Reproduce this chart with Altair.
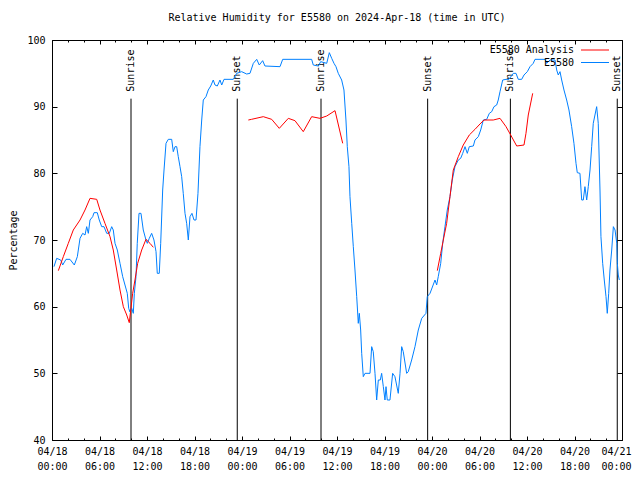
import altair as alt
import pandas as pd

FONT = "DejaVu Sans Mono"

# ---- Observed station series (E5580), hours since 2024-04-18 00:00 UTC ----
blue_h = [0.25, 0.59, 1.10, 1.35, 1.77, 2.27, 2.82, 3.20, 3.54, 3.88, 4.17, 4.38, 4.59, 4.80,
          5.14, 5.31, 5.72, 5.97, 6.28, 6.57, 6.91, 7.24, 7.54, 7.74, 7.96, 8.25, 8.59, 8.93,
          9.22, 9.51, 9.69, 9.85, 10.07, 10.27, 10.40, 10.61, 10.77, 10.99, 11.24, 11.53, 11.87,
          12.04, 12.29, 12.59, 12.88, 13.14, 13.30, 13.55, 13.73, 13.98, 14.15, 14.40, 14.69,
          15.12, 15.32, 15.54, 15.75, 15.95, 16.17, 16.38, 16.58, 16.80, 17.01, 17.22, 17.43,
          17.68, 17.94, 18.19, 18.44, 18.69, 18.91, 19.11, 19.45, 19.74, 20.05, 20.37, 20.59,
          20.88, 21.22, 21.44, 21.73, 22.90, 23.33, 23.96, 24.59, 25.01, 25.43, 25.86, 26.18,
          26.61, 26.90, 28.80, 29.14, 32.80, 33.00, 33.64, 33.94, 34.70, 35.03, 35.33, 35.62,
          35.87, 36.16, 36.59, 36.88, 37.13, 37.30, 37.51, 37.64, 37.86, 38.06, 38.27, 38.49,
          38.69, 38.82, 38.99, 39.12, 39.32, 39.54, 40.17, 40.38, 40.58, 40.80, 41.01, 41.22,
          41.47, 41.64, 41.85, 42.06, 42.19, 42.35, 42.69, 43.03, 43.32, 43.74, 43.96, 44.17,
          44.37, 44.80, 45.00, 45.43, 45.85, 46.27, 46.70, 47.24, 47.40, 47.75, 48.38, 48.59,
          48.79, 49.10, 49.35, 49.64, 49.93, 50.27, 50.56, 50.90, 51.32, 51.62, 51.88, 52.17,
          52.46, 52.71, 53.22, 53.43, 53.85, 54.15, 54.48, 54.91, 55.24, 55.54, 55.83, 56.17,
          56.37, 56.59, 56.93, 57.35, 57.72, 58.27, 58.61, 58.90, 59.33, 59.62, 60.04, 60.38,
          60.79, 61.01, 62.27, 62.49, 62.90, 63.54, 63.75, 63.95, 64.17, 64.38, 64.67, 65.01,
          65.30, 65.64, 65.93, 66.19, 66.35, 66.69, 66.91, 67.11, 67.32, 67.54, 67.74, 67.96,
          68.17, 68.37, 68.80, 69.00, 69.22, 69.34, 69.56, 69.76, 69.98, 70.14, 70.32, 70.48,
          70.70, 70.91, 71.12, 71.34, 71.41, 71.53, 71.66]
blue_v = [66.0, 67.25, 67.0, 66.25, 67.1, 67.1, 66.25, 67.5, 70.25, 71.0, 70.75, 72.0, 71.0, 73.0,
          73.5, 74.1, 74.1, 73.0, 72.0, 72.0, 71.0, 71.0, 72.0, 71.5, 69.5, 68.5, 66.5, 64.5,
          63.25, 62.0, 59.75, 59.2, 59.75, 59.0, 62.0, 64.5, 69.5, 74.0, 74.0, 71.5, 70.0,
          69.5, 70.25, 71.0, 70.0, 68.25, 65.0, 65.0, 69.5, 77.5, 80.5, 84.5, 85.1,
          85.1, 83.25, 84.0, 84.0, 82.5, 81.0, 79.5, 77.0, 74.0, 72.5, 70.0, 73.5,
          74.0, 73.0, 73.0, 77.0, 84.0, 88.0, 91.0, 91.5, 92.5, 93.1, 94.0, 93.25,
          93.1, 94.0, 93.25, 94.1, 94.1, 95.0, 95.25, 94.9, 95.0, 96.5, 97.1, 96.25,
          96.9, 96.1, 96.0, 97.1, 97.1, 96.25, 96.1, 96.75, 96.5, 98.1, 97.25, 96.5,
          96.0, 95.0, 94.0, 92.5, 88.0, 84.0, 81.0, 76.5, 72.5, 69.0, 65.5, 61.5,
          57.5, 59.0, 56.5, 53.0, 49.5, 50.0, 50.0, 54.0, 53.25, 50.0, 46.0, 49.0,
          49.0, 50.0, 48.0, 46.0, 48.0, 46.0, 46.0, 50.0, 49.5, 47.0, 50.0, 54.0,
          53.25, 50.0, 50.25, 52.0, 54.0, 56.5, 58.25, 59.0, 61.5, 62.0, 64.0, 63.25,
          64.5, 66.5, 69.5, 72.0, 74.5, 76.5, 79.0, 81.0, 82.0, 82.25, 83.0, 84.0,
          83.0, 84.0, 84.1, 85.0, 85.5, 86.5, 88.0, 88.1, 89.0, 89.25, 90.0, 90.25,
          91.0, 92.25, 94.0, 94.1, 94.1, 95.0, 95.0, 94.1, 94.1, 94.75, 95.25, 96.0,
          96.5, 97.1, 97.1, 96.5, 97.0, 97.0, 95.5, 94.75, 95.25, 94.0, 92.5, 91.0,
          89.5, 87.0, 84.5, 81.5, 80.1, 80.0, 76.0, 76.0, 78.0, 76.0, 78.0, 80.5,
          84.0, 87.5, 90.0, 87.5, 77.5, 70.5, 66.5, 64.0, 61.5, 59.0, 62.0, 65.5,
          68.5, 72.0, 71.5, 69.5, 66.5, 64.75, 64.0]

# ---- Analysis series (E5580 Analysis), three separate runs ----
red_h = [0.80, 1.43, 2.06, 2.69, 3.54, 4.17, 4.80, 5.65, 6.06, 6.69, 7.33, 7.74, 8.17, 8.59,
         9.01, 9.44, 9.76, 10.19, 10.48, 10.82, 11.33, 11.87, 12.38, 12.80,
         24.80, 25.20, 26.69, 27.75, 28.71, 29.85, 30.69, 31.74, 32.80, 33.85, 34.70, 35.75, 36.72,
         48.67, 49.10, 49.43, 49.85, 50.27, 50.69, 51.32, 51.95, 52.71, 53.43, 54.06, 54.57,
         55.74, 56.59, 57.35, 57.94, 58.70, 59.62, 59.87, 60.16, 60.72]
red_v = [65.4, 67.5, 69.5, 71.5, 73.0, 74.5, 76.25, 76.1, 74.5, 72.5, 70.5, 68.5, 65.5, 62.5,
         60.0, 58.75, 57.6, 62.0, 64.0, 66.5, 68.5, 70.1, 69.5, 68.9,
         88.0, 88.1, 88.5, 88.1, 86.75, 88.25, 87.9, 86.25, 88.5, 88.25, 88.6, 89.4, 84.5,
         65.4, 68.0, 70.0, 72.5, 76.5, 80.5, 82.5, 84.25, 85.75, 86.6, 87.4, 88.0,
         88.0, 88.25, 87.0, 85.75, 84.1, 84.25, 86.0, 88.75, 92.0]
red_run = [1] * 24 + [2] * 13 + [3] * 21

# ---- Sunrise / sunset markers ----
sun_h = [9.98, 23.40, 33.98, 47.45, 57.90, 71.40]
sun_label = ["Sunrise", "Sunset", "Sunrise", "Sunset", "Sunrise", "Sunset"]
sun_top = [91.2] * 6

# ---- Axis values ----
x_major = [0, 6, 12, 18, 24, 30, 36, 42, 48, 54, 60, 66, 72]
x_minor = list(range(0, 73, 2))
y_ticks = [40, 50, 60, 70, 80, 90, 100]
legend_labels = ["E5580 Analysis", "E5580"]
legend_colors = ["#ff0000", "#0080ff"]

blue_df = pd.DataFrame({"h": blue_h, "v": blue_v})
red_df = pd.DataFrame({"h": red_h, "v": red_v, "run": red_run})
sun_df = pd.DataFrame({"h": sun_h, "label": sun_label, "top": sun_top})

W, H = 570, 400
xs = alt.Scale(domain=[0, 72], nice=False, zero=False)
ys = alt.Scale(domain=[40, 100], nice=False, zero=False)

label_expr = ("['04/' + (18 + floor(datum.value / 24)), "
              "(datum.value % 24 < 10 ? '0' : '') + (datum.value % 24) + ':00']")

common = dict(grid=False, domain=False, title=None)
ax_x_labels = alt.Axis(orient="bottom", values=x_major, labelExpr=label_expr, ticks=False,
                       tickSize=0, labelPadding=6, labelLineHeight=15, labelFlush=False,
                       labelOverlap=False, labelBaseline="top",
                       labelOffset={"condition": {"test": "datum.value >= 72", "value": -6},
                                    "value": 0},
                       **common)
ax_x_bot_major = alt.Axis(orient="top", offset=-H, values=x_major, labels=False, tickSize=4, **common)
ax_x_bot_minor = alt.Axis(orient="top", offset=-H, values=x_minor, labels=False, tickSize=2, **common)
ax_x_top_major = alt.Axis(orient="bottom", offset=-H, values=x_major, labels=False, tickSize=4, **common)
ax_x_top_minor = alt.Axis(orient="bottom", offset=-H, values=x_minor, labels=False, tickSize=2, **common)

ax_y_labels = alt.Axis(orient="left", values=y_ticks, ticks=False, tickSize=0, labelPadding=7,
                       labelFlush=False, labelOverlap=False, grid=False, domain=False,
                       title="Percentage", titleX=-39, titleY=H / 2, titleAngle=270,
                       titleAlign="center", titleBaseline="middle")
ax_y_left_ticks = alt.Axis(orient="right", offset=-W, values=y_ticks, labels=False, tickSize=5, **common)
ax_y_right_ticks = alt.Axis(orient="left", offset=-W, values=y_ticks, labels=False, tickSize=5, **common)

rules = alt.Chart(sun_df).mark_rule(color="black", strokeWidth=1).encode(
    x=alt.X("h:Q", scale=xs, axis=ax_x_bot_minor),
    y=alt.Y("top:Q", scale=ys, axis=ax_y_right_ticks),
    y2=alt.Y2(datum=40),
)
sun_text = alt.Chart(sun_df).mark_text(angle=270, align="left", baseline="middle", dx=7,
                                       font=FONT, fontSize=10, color="black").encode(
    x=alt.X("h:Q", scale=xs, axis=ax_x_top_major),
    y=alt.Y("top:Q", scale=ys, axis=None),
    text="label:N",
)
blue = alt.Chart(blue_df).mark_line(color="#0080ff", strokeWidth=1).encode(
    x=alt.X("h:Q", scale=xs, axis=ax_x_labels),
    y=alt.Y("v:Q", scale=ys, axis=ax_y_labels),
)
red = alt.Chart(red_df).mark_line(color="#ff0000", strokeWidth=1).encode(
    x=alt.X("h:Q", scale=xs, axis=ax_x_bot_major),
    y=alt.Y("v:Q", scale=ys, axis=ax_y_left_ticks),
    detail="run:N",
)
host = alt.Chart(blue_df).mark_line(strokeOpacity=0).encode(
    x=alt.X("h:Q", scale=xs, axis=ax_x_top_minor),
    y=alt.Y("v:Q", scale=ys, axis=None),
)

leg_layers = []
for i, (lab, col) in enumerate(zip(legend_labels, legend_colors)):
    ypix = 10 + 12.5 * i
    leg_layers.append(
        alt.Chart(pd.DataFrame({"t": [lab]})).mark_text(
            align="right", baseline="middle", font=FONT, fontSize=10, color="black"
        ).encode(x=alt.value(522), y=alt.value(ypix), text="t:N")
    )
    leg_layers.append(
        alt.Chart(pd.DataFrame({"t": [lab]})).mark_rule(color=col, strokeWidth=1).encode(
            x=alt.value(529), x2=alt.value(557), y=alt.value(ypix)
        )
    )

chart = alt.layer(rules, sun_text, blue, red, host, *leg_layers).resolve_axis(
    x="independent", y="independent"
).properties(
    width=W, height=H,
    title=alt.TitleParams("Relative Humidity for E5580 on 2024-Apr-18 (time in UTC)",
                          font=FONT, fontSize=10, fontWeight="normal", color="black",
                          anchor="middle", baseline="middle", offset=7, frame="group"),
    padding={"left": 44, "top": 32, "right": 10, "bottom": 32},
    autosize=alt.AutoSizeParams(type="none"),
).configure_view(stroke="black", strokeWidth=1).configure_axis(
    labelFont=FONT, titleFont=FONT, labelFontSize=10, titleFontSize=10,
    labelColor="black", titleColor="black", tickColor="black", titleFontWeight="normal",
)

chart.save("out.html", embed_options={"renderer": "svg", "actions": False})
